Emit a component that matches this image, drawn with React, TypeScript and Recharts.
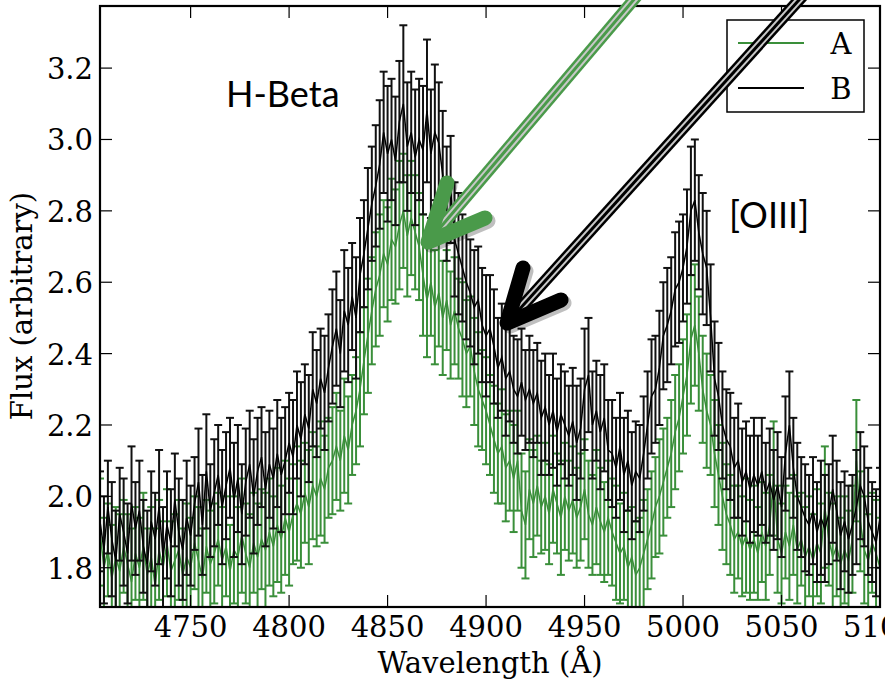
import { ComposedChart, Line, ErrorBar, XAxis, YAxis } from "recharts"

// wavelength grid (Å)
const wavelength = [
  4704, 4706, 4708, 4710, 4712, 4714, 4716, 4718, 4720, 4722,
  4724, 4726, 4728, 4730, 4732, 4734, 4736, 4738, 4740, 4742,
  4744, 4746, 4748, 4750, 4752, 4754, 4756, 4758, 4760, 4762,
  4764, 4766, 4768, 4770, 4772, 4774, 4776, 4778, 4780, 4782,
  4784, 4786, 4788, 4790, 4792, 4794, 4796, 4798, 4800, 4802,
  4804, 4806, 4808, 4810, 4812, 4814, 4816, 4818, 4820, 4822,
  4824, 4826, 4828, 4830, 4832, 4834, 4836, 4838, 4840, 4842,
  4844, 4846, 4848, 4850, 4852, 4854, 4856, 4858, 4860, 4862,
  4864, 4866, 4868, 4870, 4872, 4874, 4876, 4878, 4880, 4882,
  4884, 4886, 4888, 4890, 4892, 4894, 4896, 4898, 4900, 4902,
  4904, 4906, 4908, 4910, 4912, 4914, 4916, 4918, 4920, 4922,
  4924, 4926, 4928, 4930, 4932, 4934, 4936, 4938, 4940, 4942,
  4944, 4946, 4948, 4950, 4952, 4954, 4956, 4958, 4960, 4962,
  4964, 4966, 4968, 4970, 4972, 4974, 4976, 4978, 4980, 4982,
  4984, 4986, 4988, 4990, 4992, 4994, 4996, 4998, 5000, 5002,
  5004, 5006, 5008, 5010, 5012, 5014, 5016, 5018, 5020, 5022,
  5024, 5026, 5028, 5030, 5032, 5034, 5036, 5038, 5040, 5042,
  5044, 5046, 5048, 5050, 5052, 5054, 5056, 5058, 5060, 5062,
  5064, 5066, 5068, 5070, 5072, 5074, 5076, 5078, 5080, 5082,
  5084, 5086, 5088, 5090, 5092, 5094, 5096, 5098, 5100,
]

// spectrum A (green)
const fluxA = [
  1.9, 1.8, 1.85, 1.77, 1.83, 1.79, 1.86, 1.81, 1.76, 1.84,
  1.8, 1.86, 1.78, 1.83, 1.75, 1.85, 1.8, 1.87, 1.79, 1.82,
  1.85, 1.78, 1.83, 1.8, 1.87, 1.82, 1.77, 1.86, 1.81, 1.84,
  1.88, 1.82, 1.86, 1.79, 1.85, 1.83, 1.89, 1.84, 1.8, 1.87,
  1.83, 1.88, 1.85, 1.9, 1.86, 1.92, 1.88, 1.94, 1.9, 1.95,
  1.98, 1.95, 2.01, 1.97, 2.03, 2.0, 2.05, 2.02, 2.08, 2.1,
  2.14, 2.1, 2.17, 2.13, 2.2, 2.24, 2.3, 2.38, 2.45, 2.52,
  2.58, 2.62, 2.68, 2.65, 2.72, 2.7, 2.76, 2.8, 2.73, 2.78,
  2.74, 2.7, 2.62, 2.55, 2.6, 2.53, 2.57, 2.5, 2.55, 2.48,
  2.52, 2.47, 2.44, 2.4, 2.42, 2.35, 2.3, 2.27, 2.24, 2.2,
  2.16, 2.12, 2.14, 2.08, 2.1, 2.05, 2.1, 1.96, 1.92, 2.02,
  1.98, 2.03, 1.97, 2.0, 1.95, 2.02, 1.98, 1.94, 2.0, 1.96,
  1.99, 1.94, 1.97, 2.02, 1.95, 1.92, 1.97, 1.93, 1.9, 1.94,
  1.9, 1.87, 1.84, 1.86, 1.8, 1.83, 1.78, 1.8, 1.84, 1.88,
  1.92, 1.97, 2.0, 2.04, 2.08, 2.12, 2.18, 2.22, 2.28, 2.34,
  2.44, 2.48, 2.4, 2.3, 2.24, 2.2, 2.12, 2.06, 2.0, 1.95,
  1.92, 1.88, 1.9, 1.86, 1.89, 1.85, 1.88, 1.84, 1.9, 1.86,
  1.92, 2.05, 1.88, 1.84, 1.9, 1.86, 1.92, 1.85, 1.88, 1.83,
  1.86, 1.82, 1.87, 1.84, 1.97, 1.88, 1.83, 1.86, 1.81, 1.85,
  1.82, 1.88, 2.1, 1.93, 1.85, 1.82, 1.87, 1.84, 1.8,
]

const errA = [
  0.15, 0.14, 0.13, 0.15, 0.14, 0.16, 0.13, 0.14, 0.15, 0.13,
  0.14, 0.15, 0.13, 0.14, 0.16, 0.14, 0.13, 0.15, 0.14, 0.13,
  0.14, 0.13, 0.15, 0.14, 0.13, 0.15, 0.14, 0.13, 0.15, 0.14,
  0.13, 0.15, 0.14, 0.13, 0.15, 0.14, 0.16, 0.14, 0.15, 0.14,
  0.15, 0.14, 0.16, 0.15, 0.14, 0.16, 0.15, 0.16, 0.15, 0.14,
  0.16, 0.15, 0.14, 0.16, 0.15, 0.14, 0.16, 0.15, 0.14, 0.15,
  0.15, 0.14, 0.16, 0.15, 0.14, 0.15, 0.16, 0.15, 0.16, 0.15,
  0.16, 0.17, 0.15, 0.16, 0.17, 0.16, 0.18, 0.16, 0.17, 0.16,
  0.16, 0.15, 0.17, 0.16, 0.15, 0.16, 0.15, 0.16, 0.14, 0.15,
  0.15, 0.14, 0.16, 0.15, 0.14, 0.15, 0.16, 0.14, 0.15, 0.14,
  0.15, 0.14, 0.16, 0.15, 0.14, 0.15, 0.14, 0.16, 0.15, 0.14,
  0.15, 0.14, 0.13, 0.15, 0.14, 0.15, 0.14, 0.16, 0.15, 0.14,
  0.15, 0.14, 0.15, 0.14, 0.15, 0.14, 0.16, 0.15, 0.14, 0.16,
  0.15, 0.16, 0.14, 0.15, 0.16, 0.14, 0.15, 0.14, 0.15, 0.14,
  0.15, 0.14, 0.16, 0.15, 0.14, 0.15, 0.16, 0.15, 0.16, 0.17,
  0.18, 0.17, 0.16, 0.15, 0.16, 0.14, 0.15, 0.14, 0.15, 0.14,
  0.14, 0.15, 0.13, 0.14, 0.16, 0.14, 0.15, 0.13, 0.14, 0.15,
  0.14, 0.16, 0.15, 0.14, 0.13, 0.15, 0.14, 0.15, 0.13, 0.14,
  0.14, 0.13, 0.15, 0.14, 0.17, 0.13, 0.15, 0.14, 0.13, 0.15,
  0.14, 0.15, 0.17, 0.14, 0.15, 0.13, 0.14, 0.15, 0.14,
]

// spectrum B (black)
const fluxB = [
  1.93, 1.85, 1.97, 1.88, 1.82, 1.95, 1.9, 1.84, 1.98, 1.91,
  1.96, 1.86, 1.81, 1.93, 1.88, 1.97, 1.83, 1.92, 1.87, 1.99,
  1.9, 1.85, 1.94, 1.89, 1.98, 2.04, 1.92, 2.07, 1.96, 2.01,
  2.06, 1.97, 2.03, 2.08, 1.99, 2.05, 1.95, 2.04, 2.09, 2.0,
  2.07, 2.11, 2.02, 2.09, 2.05, 2.12, 2.06, 2.1, 2.15, 2.11,
  2.2, 2.16, 2.23, 2.19, 2.3, 2.26, 2.33, 2.29, 2.36, 2.42,
  2.47, 2.4, 2.52, 2.48, 2.56, 2.5, 2.62, 2.68, 2.75, 2.82,
  2.87, 2.93, 3.02, 2.96, 3.0, 2.94, 3.05, 3.1, 2.98, 3.02,
  2.95, 3.0, 2.97, 3.08, 2.96, 3.02, 2.99, 2.9, 2.82, 2.86,
  2.72, 2.68, 2.64, 2.6, 2.57, 2.53, 2.55, 2.48, 2.45, 2.47,
  2.42, 2.36, 2.39, 2.33, 2.35, 2.3, 2.28, 2.32, 2.27, 2.3,
  2.26, 2.29, 2.22, 2.25, 2.2, 2.24, 2.18, 2.23, 2.2, 2.17,
  2.21, 2.15, 2.19, 2.3, 2.34, 2.2, 2.24, 2.18, 2.22, 2.13,
  2.12, 2.08, 2.14, 2.06, 2.1, 2.03, 2.07, 2.05, 2.12, 2.2,
  2.28, 2.3, 2.36, 2.45, 2.48, 2.52, 2.58, 2.6, 2.64, 2.7,
  2.8, 2.83, 2.74, 2.68, 2.64, 2.5, 2.33, 2.28, 2.2, 2.16,
  2.14, 2.08, 2.1, 2.04, 2.07, 2.02, 2.06, 2.03, 2.07, 2.01,
  2.04, 1.99, 2.03, 1.97, 2.12, 2.2, 2.08, 2.0, 1.97, 1.94,
  1.92, 1.96, 1.9, 1.94, 1.91, 1.95, 2.02, 1.96, 1.89, 1.93,
  1.88, 1.92, 1.97, 2.03, 2.0, 1.93, 1.9, 1.87, 1.94,
]

const errB = [
  0.14, 0.15, 0.13, 0.16, 0.14, 0.13, 0.15, 0.14, 0.16, 0.13,
  0.14, 0.13, 0.15, 0.14, 0.13, 0.16, 0.14, 0.15, 0.15, 0.13,
  0.15, 0.14, 0.16, 0.14, 0.13, 0.15, 0.14, 0.16, 0.13, 0.15,
  0.14, 0.16, 0.15, 0.14, 0.16, 0.15, 0.14, 0.15, 0.15, 0.16,
  0.15, 0.14, 0.16, 0.15, 0.14, 0.15, 0.16, 0.15, 0.14, 0.16,
  0.15, 0.16, 0.14, 0.15, 0.16, 0.15, 0.14, 0.16, 0.15, 0.16,
  0.16, 0.15, 0.17, 0.16, 0.15, 0.17, 0.16, 0.15, 0.17, 0.16,
  0.17, 0.18, 0.17, 0.19, 0.17, 0.18, 0.17, 0.22, 0.18, 0.17,
  0.19, 0.17, 0.18, 0.2, 0.18, 0.19, 0.17, 0.18, 0.16, 0.15,
  0.16, 0.17, 0.15, 0.16, 0.15, 0.16, 0.15, 0.16, 0.17, 0.15,
  0.16, 0.14, 0.15, 0.16, 0.14, 0.15, 0.16, 0.15, 0.14, 0.15,
  0.15, 0.14, 0.16, 0.15, 0.14, 0.16, 0.15, 0.14, 0.15, 0.14,
  0.15, 0.16, 0.14, 0.17, 0.16, 0.15, 0.14, 0.16, 0.15, 0.14,
  0.15, 0.14, 0.15, 0.16, 0.14, 0.15, 0.14, 0.15, 0.16, 0.15,
  0.16, 0.15, 0.16, 0.15, 0.16, 0.15, 0.16, 0.17, 0.15, 0.16,
  0.18, 0.17, 0.16, 0.17, 0.16, 0.15, 0.16, 0.15, 0.15, 0.14,
  0.15, 0.14, 0.16, 0.15, 0.14, 0.15, 0.16, 0.14, 0.15, 0.14,
  0.15, 0.14, 0.15, 0.14, 0.16, 0.15, 0.14, 0.15, 0.14, 0.15,
  0.14, 0.15, 0.14, 0.16, 0.15, 0.14, 0.15, 0.14, 0.15, 0.14,
  0.15, 0.14, 0.16, 0.15, 0.14, 0.15, 0.14, 0.15, 0.14,
]

const xTicks = [4750, 4800, 4850, 4900, 4950, 5000, 5050, 5100]
const yTicks = [1.8, 2.0, 2.2, 2.4, 2.6, 2.8, 3.0, 3.2]

const data = wavelength.map((wl, i) => ({
  wl,
  a: fluxA[i],
  aErr: errA[i],
  b: fluxB[i],
  bErr: errB[i],
}))

const W = 885
const H = 683
const LEFT = 100
const RIGHT = 880
const TOP = 6
const BOTTOM = 607
const SERIF = "'DejaVu Serif', serif"
const GREEN = "#3a8f3a"

const XTick = (props: any) => {
  const { x, payload } = props
  return (
    <g>
      <line x1={x} x2={x} y1={BOTTOM} y2={BOTTOM - 12} stroke="#000" strokeWidth={1.2} />
      <line x1={x} x2={x} y1={TOP} y2={TOP + 12} stroke="#000" strokeWidth={1.2} />
      <text x={x} y={637} textAnchor="middle" fontFamily={SERIF} fontSize={29} fill="#000">
        {payload.value}
      </text>
    </g>
  )
}

const YTick = (props: any) => {
  const { y, payload } = props
  return (
    <g>
      <line x1={LEFT} x2={LEFT + 12} y1={y} y2={y} stroke="#000" strokeWidth={1.2} />
      <line x1={RIGHT} x2={RIGHT - 12} y1={y} y2={y} stroke="#000" strokeWidth={1.2} />
      <text x={93} y={y + 11} textAnchor="end" fontFamily={SERIF} fontSize={29} fill="#000">
        {Number(payload.value).toFixed(1)}
      </text>
    </g>
  )
}

function Arrow({ color, from, tip, arm1, arm2 }: any) {
  const shaft = `M${from[0]},${from[1]} L${tip[0]},${tip[1]}`
  const head = `M${arm1[0]},${arm1[1]} L${tip[0]},${tip[1]} L${arm2[0]},${arm2[1]}`
  return (
    <g>
      <path d={head} transform="translate(3,3)" stroke="#000" strokeOpacity={0.25} strokeWidth={15} fill="none" strokeLinecap="round" strokeLinejoin="round" />
      <path d={shaft} stroke={color} strokeWidth={12} fill="none" />
      <path d={shaft} stroke="#c8c8c8" strokeWidth={7} fill="none" />
      <path d={shaft} stroke={color} strokeWidth={3} fill="none" />
      <path d={head} stroke={color} strokeWidth={15} fill="none" strokeLinecap="round" strokeLinejoin="round" />
    </g>
  )
}

// error bars are not clipped by recharts, so clip them to the plot box
const clipCss = `
.recharts-errorBar, .recharts-errorBars { clip-path: url(#plotClip); }
`

export default function App() {
  return (
    <div style={{ position: "absolute", left: 0, top: 0, width: W, height: H, background: "#fff" }}>
      <style>{clipCss}</style>
      <svg width={0} height={0} style={{ position: "absolute" }}>
        <defs>
          <clipPath id="plotClip" clipPathUnits="userSpaceOnUse">
            <rect x={LEFT} y={TOP} width={RIGHT - LEFT} height={BOTTOM - TOP} />
          </clipPath>
        </defs>
      </svg>
      <ComposedChart width={W} height={H} data={data} margin={{ top: TOP, right: W - RIGHT, bottom: 0, left: 0 }}>
        <XAxis
          dataKey="wl"
          type="number"
          domain={[4704, 5100]}
          ticks={xTicks}
          interval={0}
          allowDataOverflow
          height={H - BOTTOM}
          axisLine={false}
          tickLine={false}
          tick={XTick}
        />
        <YAxis
          type="number"
          domain={[1.69, 3.374]}
          ticks={yTicks}
          interval={0}
          allowDataOverflow
          width={LEFT}
          axisLine={false}
          tickLine={false}
          tick={YTick}
        />
        <Line
          dataKey="a"
          name="A"
          stroke={GREEN}
          strokeWidth={1.5}
          dot={false}
          isAnimationActive={false}
        >
          <ErrorBar dataKey="aErr" width={4} stroke={GREEN} strokeWidth={2} clipPath="url(#plotClip)" />
        </Line>
        <Line
          dataKey="b"
          name="B"
          stroke="#000"
          strokeWidth={1.5}
          dot={false}
          isAnimationActive={false}
        >
          <ErrorBar dataKey="bErr" width={4} stroke="#111" strokeWidth={2} clipPath="url(#plotClip)" />
        </Line>
      </ComposedChart>
      <svg
        width={W}
        height={H}
        style={{ position: "absolute", left: 0, top: 0, pointerEvents: "none" }}
      >
        <rect x={LEFT} y={TOP} width={RIGHT - LEFT} height={BOTTOM - TOP} fill="none" stroke="#000" strokeWidth={2.2} />
        {/* legend */}
        <rect x={727} y={20} width={137} height={92} fill="#fff" stroke="#000" strokeWidth={1.5} />
        <line x1={738} x2={804} y1={43} y2={43} stroke={GREEN} strokeWidth={2} />
        <text x={841} y={54} textAnchor="middle" fontFamily={SERIF} fontSize={29}>A</text>
        <line x1={738} x2={804} y1={88} y2={88} stroke="#000" strokeWidth={2} />
        <text x={841} y={99} textAnchor="middle" fontFamily={SERIF} fontSize={29}>B</text>
        <text x={490} y={673} textAnchor="middle" fontFamily={SERIF} fontSize={29}>
          Wavelength (Å)
        </text>
        <text
          x={32}
          y={306}
          textAnchor="middle"
          fontFamily={SERIF}
          fontSize={29}
          transform="rotate(-90 32 306)"
        >
          Flux (arbitrary)
        </text>
        <text x={226} y={107} fontFamily="Lato, sans-serif" fontSize={36}>H-Beta</text>
        <text x={729} y={228} fontFamily="Lato, sans-serif" fontSize={36}>[OIII]</text>
        <Arrow color="#4a9a4a" from={[642, -10]} tip={[428, 242]} arm1={[447, 183]} arm2={[485, 218]} />
        <Arrow color="#000" from={[808, -10]} tip={[507, 323]} arm1={[523, 268]} arm2={[561, 300]} />
      </svg>
    </div>
  )
}
